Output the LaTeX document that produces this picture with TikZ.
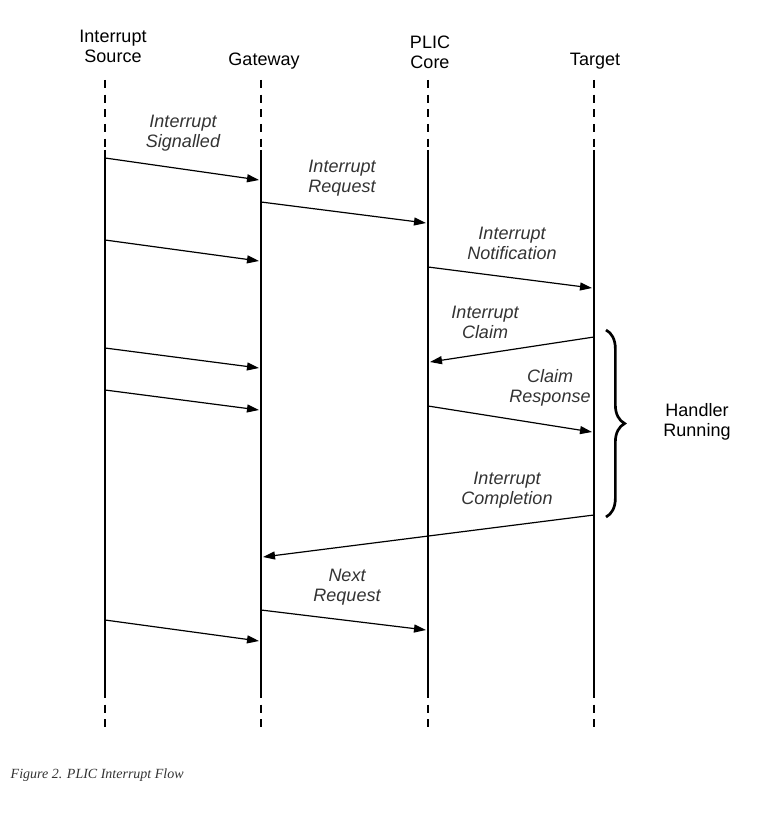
\documentclass[tikz,border=0pt]{standalone}
\usepackage{fontspec}
\setmainfont{Liberation Sans}
\newfontfamily\capfont{Liberation Serif}
\usetikzlibrary{arrows.meta,decorations.pathreplacing,positioning}
\begin{document}
\begin{tikzpicture}[x=0.75pt, y=-0.75pt, >={Triangle[length=9pt,width=6pt]},
  head/.style={align=center, font=\fontsize{13.5}{15}\selectfont},
  lbl/.style={align=center, font=\fontsize{13.5}{15}\selectfont\itshape, text=black!80},
  msg/.style={->, line width=0.9pt},
  life/.style={line width=0.9pt}]
\useasboundingbox (0,0) rectangle (768,834);

% --- lifelines ---
\foreach \n/\x in {src/105, gw/261, core/428, tgt/594}{
  \coordinate (\n top) at (\x,80);
  \coordinate (\n a) at (\x,150);
  \coordinate (\n b) at (\x,690);
  \coordinate (\n bot) at (\x,732);
  \draw[life, dash pattern=on 6pt off 5pt] (\n top) -- (\n a);
  \draw[life] (\n a) -- (\n b);
  \draw[life, dash pattern=on 6pt off 5pt] (\n b) -- (\n bot);
}

% --- headers ---
\node[head] (hsrc) at (113,46) {Interrupt\\Source};
\node[head] (hgw) at (264,61) {Gateway};
\node[head] (hcore) at (430,52) {PLIC\\Core};
\node[head] (htgt) at (595,61) {Target};

% --- messages ---
\draw[msg] (105,158) -- (259,180);
\node[lbl] (m1) at (183,133) {Interrupt\\Signalled};
\draw[msg] (261,202) -- (426,223);
\node[lbl] (m2) at (342,178) {Interrupt\\Request};
\draw[msg] (105,240) -- (259,261);
\draw[msg] (428,267) -- (592,288);
\node[lbl] (m3) at (512,243) {Interrupt\\Notification};
\draw[msg] (594,337) -- (430,362);
\node[lbl] (m4) at (485,322) {Interrupt\\Claim};
\draw[msg] (105,348) -- (259,368);
\draw[msg] (105,390) -- (259,410);
\draw[msg] (428,406) -- (592,432);
\node[lbl] (m5) at (550,388) {Claim\\Response};
\draw[msg] (594,515) -- (263,557);
\node[lbl] (m6) at (507,490) {Interrupt\\Completion};
\draw[msg] (261,610) -- (426,630);
\node[lbl] (m7) at (347,587) {Next\\Request};
\draw[msg] (105,620) -- (259,641);

% --- handler brace ---
\draw[line width=2pt, decorate, decoration={brace, amplitude=14pt}]
  (606,330) -- (606,517);
\node[head] (hr) at (697,422) {Handler\\Running};

% --- caption ---
\node[anchor=west, font=\capfont\itshape\fontsize{10.5}{12}\selectfont, text=black!80] (cap) at (6,775)
  {Figure 2. PLIC Interrupt Flow};
\end{tikzpicture}
\end{document}
